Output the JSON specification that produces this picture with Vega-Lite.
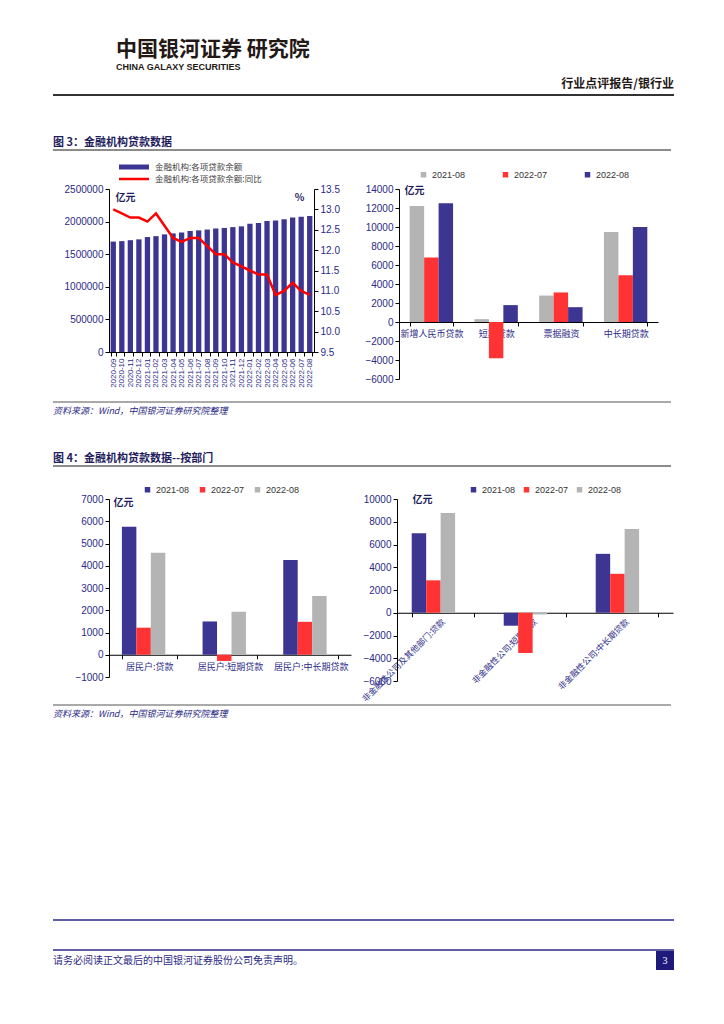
{
  "$schema": "https://vega.github.io/schema/vega-lite/v6.json",
  "background": "white",
  "padding": {"left": 52, "top": 39, "right": 40, "bottom": 20},
  "title": {"text": "中国银河证券  研究院", "subtitle": "CHINA GALAXY SECURITIES", "anchor": "start", "frame": "group", "dx": 7, "fontSize": 21, "fontWeight": "bold", "color": "#231815", "subtitleFontSize": 9, "subtitleFontWeight": "bold", "subtitleColor": "#231815", "subtitleFont": "Liberation Sans", "subtitlePadding": 3, "offset": 6},
  "config": {
    "font": "Noto Sans CJK SC",
    "view": {"stroke": null},
    "axis": {"grid": false, "domainColor": "#000000", "tickColor": "#000000", "labelColor": "#2B2A86", "labelFont": "Liberation Sans", "labelFontSize": 10, "tickSize": 4, "labelPadding": 2},
    "legend": {"labelFont": "Liberation Sans", "labelFontSize": 9, "labelColor": "#333333"}
  },
  "datasets": {
    "loans": [
      {"month": "2020-09", "balance": 1693700, "yoy": 13.0},
      {"month": "2020-10", "balance": 1700600, "yoy": 12.9},
      {"month": "2020-11", "balance": 1714900, "yoy": 12.8},
      {"month": "2020-12", "balance": 1727500, "yoy": 12.8},
      {"month": "2021-01", "balance": 1763300, "yoy": 12.7},
      {"month": "2021-02", "balance": 1776900, "yoy": 12.9},
      {"month": "2021-03", "balance": 1804100, "yoy": 12.6},
      {"month": "2021-04", "balance": 1818800, "yoy": 12.3},
      {"month": "2021-05", "balance": 1833000, "yoy": 12.2},
      {"month": "2021-06", "balance": 1855100, "yoy": 12.3},
      {"month": "2021-07", "balance": 1865600, "yoy": 12.3},
      {"month": "2021-08", "balance": 1877900, "yoy": 12.1},
      {"month": "2021-09", "balance": 1894500, "yoy": 11.9},
      {"month": "2021-10", "balance": 1902700, "yoy": 11.9},
      {"month": "2021-11", "balance": 1915400, "yoy": 11.7},
      {"month": "2021-12", "balance": 1926900, "yoy": 11.6},
      {"month": "2022-01", "balance": 1967000, "yoy": 11.5},
      {"month": "2022-02", "balance": 1979100, "yoy": 11.4},
      {"month": "2022-03", "balance": 2010000, "yoy": 11.4},
      {"month": "2022-04", "balance": 2016700, "yoy": 10.9},
      {"month": "2022-05", "balance": 2035400, "yoy": 11.0},
      {"month": "2022-06", "balance": 2063500, "yoy": 11.2},
      {"month": "2022-07", "balance": 2074500, "yoy": 11.0},
      {"month": "2022-08", "balance": 2087000, "yoy": 10.9}
    ],
    "newloans": [
      {"cat": "新增人民币贷款", "period": "2021-08", "value": 12200},
      {"cat": "新增人民币贷款", "period": "2022-07", "value": 6790},
      {"cat": "新增人民币贷款", "period": "2022-08", "value": 12500},
      {"cat": "短期贷款", "period": "2021-08", "value": 300},
      {"cat": "短期贷款", "period": "2022-07", "value": -3816},
      {"cat": "短期贷款", "period": "2022-08", "value": 1778},
      {"cat": "票据融资", "period": "2021-08", "value": 2780},
      {"cat": "票据融资", "period": "2022-07", "value": 3111},
      {"cat": "票据融资", "period": "2022-08", "value": 1560},
      {"cat": "中长期贷款", "period": "2021-08", "value": 9480},
      {"cat": "中长期贷款", "period": "2022-07", "value": 4921},
      {"cat": "中长期贷款", "period": "2022-08", "value": 10000}
    ],
    "household": [
      {"cat": "居民户:贷款", "period": "2021-08", "value": 5750},
      {"cat": "居民户:贷款", "period": "2022-07", "value": 1217},
      {"cat": "居民户:贷款", "period": "2022-08", "value": 4580},
      {"cat": "居民户:短期贷款", "period": "2021-08", "value": 1496},
      {"cat": "居民户:短期贷款", "period": "2022-07", "value": -279},
      {"cat": "居民户:短期贷款", "period": "2022-08", "value": 1929},
      {"cat": "居民户:中长期贷款", "period": "2021-08", "value": 4260},
      {"cat": "居民户:中长期贷款", "period": "2022-07", "value": 1480},
      {"cat": "居民户:中长期贷款", "period": "2022-08", "value": 2640}
    ],
    "corporate": [
      {"cat": "非金融性公司及其他部门:贷款", "period": "2021-08", "value": 6980},
      {"cat": "非金融性公司及其他部门:贷款", "period": "2022-07", "value": 2850},
      {"cat": "非金融性公司及其他部门:贷款", "period": "2022-08", "value": 8760},
      {"cat": "非金融性公司:短期贷款", "period": "2021-08", "value": -1140},
      {"cat": "非金融性公司:短期贷款", "period": "2022-07", "value": -3537},
      {"cat": "非金融性公司:短期贷款", "period": "2022-08", "value": -151},
      {"cat": "非金融性公司:中长期贷款", "period": "2021-08", "value": 5180},
      {"cat": "非金融性公司:中长期贷款", "period": "2022-07", "value": 3425},
      {"cat": "非金融性公司:中长期贷款", "period": "2022-08", "value": 7353}
    ]
  },
  "spacing": 0,
  "resolve": {"scale": {"color": "independent"}, "legend": {"color": "independent"}},
  "vconcat": [
    {
      "width": 565, "height": 42,
      "data": {"values": [{}]},
      "mark": {"type": "rule", "color": "#333333", "strokeWidth": 2},
      "encoding": {
        "x": {"datum": 0, "type": "quantitative", "scale": {"domain": [0, 1], "range": [-56, 565]}, "axis": null},
        "x2": {"datum": 1},
        "y": {"datum": 1, "type": "quantitative", "scale": {"domain": [0, 1]}, "axis": null}
      },
      "title": {"text": "行业点评报告/银行业", "anchor": "end", "frame": "group", "fontSize": 12, "fontWeight": "bold", "color": "#231815", "offset": 3}
    },
    {
      "width": 565, "height": 12,
      "data": {"values": [{}]},
      "mark": {"type": "rule", "color": "#666666", "strokeWidth": 1.5},
      "encoding": {
        "x": {"datum": 0, "type": "quantitative", "scale": {"domain": [0, 1], "range": [-56, 562]}, "axis": null},
        "x2": {"datum": 1},
        "y": {"datum": 1, "type": "quantitative", "scale": {"domain": [0, 1]}, "axis": null}
      },
      "title": {"text": "图 3：金融机构贷款数据", "anchor": "start", "frame": "group", "dx": -56, "fontSize": 11, "fontWeight": "bold", "color": "#1F1D5C", "offset": 1}
    },
    {
      "bounds": "flush",
      "spacing": 85,
      "resolve": {"scale": {"color": "independent"}, "legend": {"color": "independent"}},
      "hconcat": [
        {
          "width": 205, "height": 163,
          "data": {"name": "loans"},
          "layer": [
            {
              "mark": {"type": "bar"},
              "encoding": {
                "x": {"field": "month", "type": "ordinal", "scale": {"paddingInner": 0.38, "paddingOuter": 0.19}, "axis": {"title": null, "labelAngle": -90, "labelFontSize": 8, "tickBand": "extent", "labelPadding": 2}},
                "y": {"field": "balance", "type": "quantitative", "scale": {"domain": [0, 2500000]}, "axis": {"values": [0, 500000, 1000000, 1500000, 2000000, 2500000], "format": "d", "title": "亿元", "titleAngle": 0, "titleAlign": "left", "titleBaseline": "top", "titleX": 6, "titleY": 3, "titleFontSize": 10, "titleFontWeight": "bold", "titleColor": "#1F1D5C", "minExtent": 56, "maxExtent": 56}},
                "color": {
                  "datum": "金融机构:各项贷款余额", "type": "nominal",
                  "scale": {"domain": ["金融机构:各项贷款余额", "金融机构:各项贷款余额:同比"], "range": ["#3D3592", "#FF0000"]},
                  "legend": {
                    "orient": "none", "legendX": 20, "legendY": -27, "direction": "vertical", "title": null,
                    "labelFont": "Noto Sans CJK SC", "labelFontSize": 8.5, "labelColor": "#444444",
                    "symbolSize": 100, "rowPadding": 2, "labelOffset": 16,
                    "encode": {"symbols": {"update": {
                      "shape": {"signal": "datum.value === '金融机构:各项贷款余额:同比' ? 'M-3,-0.25L3,-0.25L3,0.25L-3,0.25Z' : 'M-3,-0.5L3,-0.5L3,0.5L-3,0.5Z'"},
                      "fill": {"signal": "datum.value === '金融机构:各项贷款余额:同比' ? '#FF0000' : '#3D3592'"},
                      "strokeWidth": {"value": 0},
                      "opacity": {"value": 1}
                    }}}
                  }
                }
              }
            },
            {
              "mark": {"type": "line", "strokeWidth": 2.5},
              "encoding": {
                "x": {"field": "month", "type": "ordinal"},
                "y": {"field": "yoy", "type": "quantitative", "scale": {"domain": [9.5, 13.5], "zero": false}, "axis": {"orient": "right", "values": [9.5, 10, 10.5, 11, 11.5, 12, 12.5, 13, 13.5], "format": ".1f", "title": "%", "titleAngle": 0, "titleAlign": "right", "titleBaseline": "top", "titleX": -10, "titleY": 3, "titleFontSize": 10, "titleFontWeight": "bold", "titleColor": "#1F1D5C"}},
                "color": {"datum": "金融机构:各项贷款余额:同比", "type": "nominal"}
              }
            }
          ],
          "resolve": {"scale": {"y": "independent"}}
        },
        {
          "width": 259, "height": 190,
          "data": {"name": "newloans"},
          "mark": {"type": "bar"},
          "encoding": {
            "x": {"field": "cat", "type": "nominal", "sort": ["新增人民币贷款", "短期贷款", "票据融资", "中长期贷款"], "scale": {"paddingInner": 0.33, "paddingOuter": 0.165}, "axis": {"title": null, "labelAngle": 0, "offset": -57, "tickBand": "extent", "labelFont": "Noto Sans CJK SC", "labelFontSize": 9, "labelPadding": 3}},
            "xOffset": {"field": "period", "type": "nominal", "sort": ["2021-08", "2022-07", "2022-08"]},
            "y": {"field": "value", "type": "quantitative", "scale": {"domain": [-6000, 14000]}, "axis": {"values": [-6000, -4000, -2000, 0, 2000, 4000, 6000, 8000, 10000, 12000, 14000], "format": "d", "title": "亿元", "titleAngle": 0, "titleAlign": "left", "titleBaseline": "top", "titleX": 5, "titleY": -4, "titleFontSize": 10, "titleFontWeight": "bold", "titleColor": "#1F1D5C"}},
            "color": {"field": "period", "type": "nominal", "scale": {"domain": ["2021-08", "2022-07", "2022-08"], "range": ["#B4B4B4", "#FF3333", "#3D3592"]}, "legend": {"orient": "none", "legendX": 20, "legendY": -19, "direction": "horizontal", "title": null, "symbolType": "square", "symbolSize": 30, "columnPadding": 35}}
          }
        }
      ]
    },
    {
      "width": 565, "height": 14,
      "data": {"values": [{}]},
      "mark": {"type": "rule", "color": "#555555", "strokeWidth": 1},
      "encoding": {
        "x": {"datum": 0, "type": "quantitative", "scale": {"domain": [0, 1], "range": [-56, 562]}, "axis": null},
        "x2": {"datum": 1},
        "y": {"datum": 0, "type": "quantitative", "scale": {"domain": [0, 1]}, "axis": null}
      },
      "title": {"text": "资料来源：Wind，中国银河证券研究院整理", "orient": "bottom", "anchor": "start", "frame": "group", "dx": -56, "fontSize": 9, "fontWeight": "normal", "fontStyle": "italic", "color": "#2B2A86", "offset": 4}
    },
    {
      "width": 565, "height": 37,
      "data": {"values": []},
      "mark": "point",
      "encoding": {}
    },
    {
      "width": 565, "height": 19,
      "data": {"values": [{}]},
      "mark": {"type": "rule", "color": "#666666", "strokeWidth": 1.5},
      "encoding": {
        "x": {"datum": 0, "type": "quantitative", "scale": {"domain": [0, 1], "range": [-56, 562]}, "axis": null},
        "x2": {"datum": 1},
        "y": {"datum": 1, "type": "quantitative", "scale": {"domain": [0, 1]}, "axis": null}
      },
      "title": {"text": "图 4：金融机构贷款数据--按部门", "anchor": "start", "frame": "group", "dx": -56, "fontSize": 11, "fontWeight": "bold", "color": "#1F1D5C", "offset": 1}
    },
    {
      "bounds": "flush",
      "spacing": 46,
      "resolve": {"scale": {"color": "independent"}, "legend": {"color": "independent"}},
      "hconcat": [
        {
          "width": 242, "height": 178,
          "data": {"name": "household"},
          "mark": {"type": "bar"},
          "encoding": {
            "x": {"field": "cat", "type": "nominal", "sort": ["居民户:贷款", "居民户:短期贷款", "居民户:中长期贷款"], "scale": {"paddingInner": 0.32, "paddingOuter": 0.16}, "axis": {"title": null, "labelAngle": 0, "offset": -22.25, "tickBand": "extent", "labelFont": "Noto Sans CJK SC", "labelFontSize": 9, "labelPadding": 4}},
            "xOffset": {"field": "period", "type": "nominal", "sort": ["2021-08", "2022-07", "2022-08"]},
            "y": {"field": "value", "type": "quantitative", "scale": {"domain": [-1000, 7000]}, "axis": {"values": [-1000, 0, 1000, 2000, 3000, 4000, 5000, 6000, 7000], "format": "d", "title": "亿元", "titleAngle": 0, "titleAlign": "left", "titleBaseline": "top", "titleX": 4, "titleY": -2, "titleFontSize": 10, "titleFontWeight": "bold", "titleColor": "#1F1D5C", "minExtent": 45, "maxExtent": 45}},
            "color": {"field": "period", "type": "nominal", "scale": {"domain": ["2021-08", "2022-07", "2022-08"], "range": ["#3D3592", "#FF3333", "#B4B4B4"]}, "legend": {"orient": "none", "legendX": 34, "legendY": -14, "direction": "horizontal", "title": null, "symbolType": "square", "symbolSize": 30, "columnPadding": 8}}
          }
        },
        {
          "width": 276, "height": 182,
          "data": {"name": "corporate"},
          "mark": {"type": "bar"},
          "encoding": {
            "x": {"field": "cat", "type": "nominal", "sort": ["非金融性公司及其他部门:贷款", "非金融性公司:短期贷款", "非金融性公司:中长期贷款"], "scale": {"paddingInner": 0.32, "paddingOuter": 0.16}, "axis": {"title": null, "labelAngle": -45, "labelAlign": "right", "labelBaseline": "middle", "offset": -68.25, "tickBand": "extent", "labelFont": "Noto Sans CJK SC", "labelFontSize": 8.5, "labelPadding": 3}},
            "xOffset": {"field": "period", "type": "nominal", "sort": ["2021-08", "2022-07", "2022-08"]},
            "y": {"field": "value", "type": "quantitative", "scale": {"domain": [-6000, 10000]}, "axis": {"values": [-6000, -4000, -2000, 0, 2000, 4000, 6000, 8000, 10000], "format": "d", "title": "亿元", "titleAngle": 0, "titleAlign": "left", "titleBaseline": "top", "titleX": 15, "titleY": -5, "titleFontSize": 10, "titleFontWeight": "bold", "titleColor": "#1F1D5C", "minExtent": 36, "maxExtent": 36}},
            "color": {"field": "period", "type": "nominal", "scale": {"domain": ["2021-08", "2022-07", "2022-08"], "range": ["#3D3592", "#FF3333", "#B4B4B4"]}, "legend": {"orient": "none", "legendX": 72, "legendY": -14, "direction": "horizontal", "title": null, "symbolType": "square", "symbolSize": 30, "columnPadding": 6}}
          }
        }
      ]
    },
    {
      "width": 565, "height": 2,
      "data": {"values": [{}]},
      "mark": {"type": "rule", "color": "#555555", "strokeWidth": 1},
      "encoding": {
        "x": {"datum": 0, "type": "quantitative", "scale": {"domain": [0, 1], "range": [-56, 562]}, "axis": null},
        "x2": {"datum": 1},
        "y": {"datum": 0, "type": "quantitative", "scale": {"domain": [0, 1]}, "axis": null}
      },
      "title": {"text": "资料来源：Wind，中国银河证券研究院整理", "orient": "bottom", "anchor": "start", "frame": "group", "dx": -56, "fontSize": 9, "fontWeight": "normal", "fontStyle": "italic", "color": "#2B2A86", "offset": 4}
    },
    {
      "width": 565, "height": 200,
      "data": {"values": []},
      "mark": "point",
      "encoding": {}
    },
    {
      "width": 565, "height": 50,
      "data": {"values": [{}]},
      "layer": [
        {"mark": {"type": "rule", "color": "#2B2A86", "strokeWidth": 1.5}, "encoding": {
          "x": {"datum": 0, "type": "quantitative", "scale": {"domain": [0, 1], "range": [-56, 565]}, "axis": null},
          "x2": {"datum": 1},
          "y": {"datum": 1, "type": "quantitative", "scale": {"domain": [0, 1]}, "axis": null}}},
        {"mark": {"type": "rule", "color": "#2B2A86", "strokeWidth": 1.5}, "encoding": {
          "x": {"datum": 0, "type": "quantitative"},
          "x2": {"datum": 1},
          "y": {"datum": 0.4, "type": "quantitative"}}},
        {"mark": {"type": "rect", "color": "#1F1A7A"}, "encoding": {
          "x": {"datum": 0.971, "type": "quantitative"},
          "x2": {"datum": 1},
          "y": {"datum": 0.38, "type": "quantitative"},
          "y2": {"datum": 0}}},
        {"mark": {"type": "text", "color": "#FFFFFF", "fontSize": 10, "font": "Liberation Serif"}, "encoding": {
          "x": {"datum": 0.9855, "type": "quantitative"},
          "y": {"datum": 0.18, "type": "quantitative"},
          "text": {"value": "3"}}}
      ],
      "title": {"text": "请务必阅读正文最后的中国银河证券股份公司免责声明。", "orient": "bottom", "anchor": "start", "frame": "group", "dx": -56, "fontSize": 10, "fontWeight": "normal", "color": "#2B2A86", "offset": -14}
    }
  ]
}
